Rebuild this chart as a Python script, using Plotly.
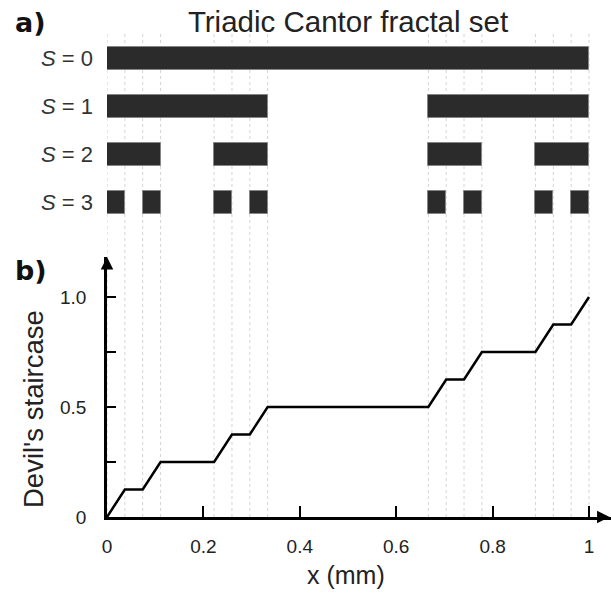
import plotly.graph_objects as go

# ---- data ----
levels = [0, 1, 2, 3]
level_labels = ["<i>S</i> = 0", "<i>S</i> = 1", "<i>S</i> = 2", "<i>S</i> = 3"]
seg_starts = [
    [0],
    [0, 2/3],
    [0, 2/9, 6/9, 8/9],
    [0, 2/27, 6/27, 8/27, 18/27, 20/27, 24/27, 26/27],
]
seg_widths = [
    [1],
    [1/3, 1/3],
    [1/9, 1/9, 1/9, 1/9],
    [1/27] * 8,
]
edges = [0, 1/27, 2/27, 3/27, 6/27, 7/27, 8/27, 9/27,
         18/27, 19/27, 20/27, 21/27, 24/27, 25/27, 26/27, 1]
stair_x = [0, 1/27, 2/27, 3/27, 6/27, 7/27, 8/27, 9/27,
           18/27, 19/27, 20/27, 21/27, 24/27, 25/27, 26/27, 1]
stair_y = [0, 1/8, 1/8, 2/8, 2/8, 3/8, 3/8, 4/8,
           4/8, 5/8, 5/8, 6/8, 6/8, 7/8, 7/8, 1]
x_ticks = [0, 0.2, 0.4, 0.6, 0.8, 1]
x_ticktext = ["0", "0.2", "0.4", "0.6", "0.8", "1"]
y_ticks = [0, 0.25, 0.5, 0.75, 1.0]
y_ticktext = ["0", "", "0.5", "", "1.0"]

FONT = "Liberation Sans, Arial, sans-serif"
TXT = "#222222"
BAR = "#2b2b2b"

fig = go.Figure()

for lv, starts, widths in zip(levels, seg_starts, seg_widths):
    fig.add_trace(go.Bar(
        x=widths, base=starts, y=[lv] * len(starts), orientation="h",
        width=0.48, marker=dict(color=BAR, line=dict(color="#858585", width=1)),
        xaxis="x", yaxis="y2", showlegend=False, hoverinfo="skip",
    ))

fig.add_trace(go.Scatter(
    x=stair_x, y=stair_y, mode="lines",
    line=dict(color="black", width=2.5),
    xaxis="x", yaxis="y", showlegend=False, cliponaxis=False,
))

shapes = []
for e in edges:
    shapes.append(dict(type="line", xref="x", yref="paper", x0=e, x1=e, y0=0, y1=1,
                       line=dict(color="#d4d4d4", width=1, dash="dot"), layer="below"))

XMAX = 504 / 482
YMAX = 260 / 220

annotations = [
    # axis arrows
    dict(x=XMAX - 0.003, y=0, ax=XMAX - 0.03, ay=0, xref="x", yref="y", axref="x", ayref="y",
         showarrow=True, arrowhead=2, arrowsize=1, arrowwidth=2.5, arrowcolor="black",
         text="", standoff=0),
    dict(x=0, y=YMAX, ax=0, ay=YMAX - 0.06, xref="x", yref="y", axref="x", ayref="y",
         showarrow=True, arrowhead=2, arrowsize=1, arrowwidth=2.5, arrowcolor="black",
         text="", standoff=0),
    # panel labels
    dict(x=(13 - 107) / 504, y=(517 - 23) / 483, xref="paper", yref="paper",
         xanchor="left", yanchor="middle", showarrow=False, text="<b>a)</b>",
         font=dict(family="DejaVu Sans", size=27, color="#111")),
    dict(x=(13 - 107) / 504, y=(517 - 270) / 483, xref="paper", yref="paper",
         xanchor="left", yanchor="middle", showarrow=False, text="<b>b)</b>",
         font=dict(family="DejaVu Sans", size=27, color="#111")),
    # axis titles
    dict(x=(346 - 107) / 504, y=(517 - 575) / 483, xref="paper", yref="paper",
         xanchor="center", yanchor="middle", showarrow=False, text="x (mm)",
         font=dict(family=FONT, size=25, color=TXT)),
    dict(x=(33 - 107) / 504, y=(517 - 409) / 483, xref="paper", yref="paper",
         xanchor="center", yanchor="middle", showarrow=False, text="Devil's staircase",
         textangle=-90, font=dict(family=FONT, size=27.5, color=TXT)),
]

fig.update_layout(
    width=611, height=595,
    margin=dict(l=107, r=0, t=34, b=78),
    paper_bgcolor="white", plot_bgcolor="white",
    bargap=0, barmode="overlay",
    title=dict(text="Triadic Cantor fractal set", x=348 / 611, xanchor="center",
               y=1 - 22 / 595, yanchor="middle", xref="container", yref="container",
               font=dict(family=FONT, size=29.5, color=TXT)),
    xaxis=dict(range=[0, XMAX], domain=[0, 1], anchor="y",
               showgrid=False, zeroline=False,
               showline=True, linecolor="black", linewidth=2.5,
               ticks="inside", ticklen=11, tickwidth=2, tickcolor="black",
               tickvals=x_ticks, ticktext=x_ticktext, ticklabelstandoff=10,
               tickfont=dict(family=FONT, size=19, color=TXT)),
    yaxis=dict(range=[0, YMAX], domain=[0, 260 / 483], anchor="x",
               showgrid=False, zeroline=False,
               showline=True, linecolor="black", linewidth=2.5,
               ticks="inside", ticklen=9, tickwidth=2, tickcolor="black",
               tickvals=y_ticks, ticktext=y_ticktext, ticklabelstandoff=14,
               tickfont=dict(family=FONT, size=19, color=TXT)),
    yaxis2=dict(range=[3.5, -0.5], domain=[(517 - 226.5) / 483, 1], anchor="x",
                showgrid=False, zeroline=False, showline=False, ticks="",
                tickvals=levels, ticktext=level_labels, ticklabelstandoff=13,
                tickfont=dict(family=FONT, size=22, color="#333")),
    shapes=shapes,
    annotations=annotations,
)

fig.write_html("out.html", config={"displayModeBar": False},
               post_script="document.body.style.margin='0';document.body.style.overflow='hidden';")
